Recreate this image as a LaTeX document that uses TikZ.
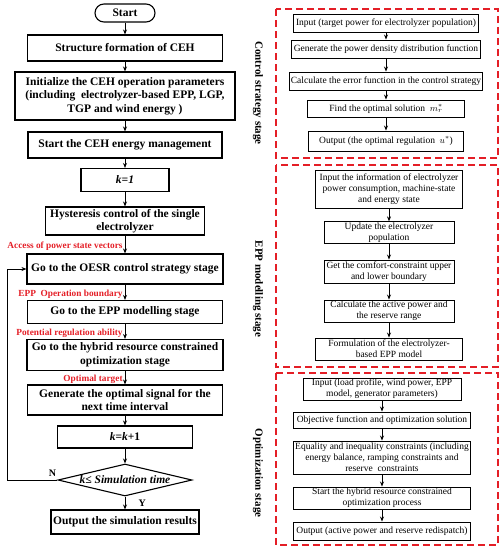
\documentclass[tikz,border=0pt]{standalone}
\usepackage{fontspec}
\setmainfont{Liberation Serif}
\usepackage{xcolor}
\usepackage{tikz}
\usetikzlibrary{arrows.meta,positioning,shapes.geometric}

\definecolor{framered}{RGB}{228,30,38}

\begin{document}
\begin{tikzpicture}[x=1pt, y=-1pt,
    mainbox/.style={draw, line width=1.1pt, align=center, inner sep=1pt, font=\bfseries\fontsize{11.5}{13.5}\selectfont},
    term/.style={mainbox, rounded corners=9pt},
    decision/.style={draw, diamond, line width=1.1pt, aspect=4.2, inner sep=0pt, font=\bfseries\itshape\fontsize{11.5}{13.5}\selectfont},
    subbox/.style={draw, line width=0.9pt, align=center, inner sep=1pt, font=\fontsize{9.5}{10.8}\selectfont},
    lab/.style={left, pos=0.6, text=framered, inner sep=2pt, font=\bfseries\fontsize{9.3}{10}\selectfont},
    yn/.style={font=\bfseries\fontsize{10}{11}\selectfont},
    stagelab/.style={rotate=-90, font=\bfseries\fontsize{11}{13}\selectfont},
    frame/.style={draw=framered, line width=1.3pt, dash pattern=on 7pt off 4pt},
    arr/.style={-{Stealth[length=5pt, width=4pt]}, line width=0.8pt}
  ]
    \useasboundingbox (0,0) rectangle (501,550);

    % main flow
    \node[term, minimum width=60pt, minimum height=18pt] (start) at (125,13) {Start};
    \node[mainbox, minimum width=195pt, minimum height=26pt] (struct) at (125,48) {Structure formation of CEH};
    \node[mainbox, minimum width=220pt, minimum height=48pt] (init) at (125,96) {Initialize the CEH operation parameters\\(including\ \ electrolyzer-based EPP, LGP,\\TGP and wind energy )};
    \node[mainbox, minimum width=194pt, minimum height=26pt] (manage) at (125,145) {Start the CEH energy management};
    \node[mainbox, minimum width=88pt, minimum height=23pt] (kone) at (125,180) {\itshape k=1};
    \node[mainbox, minimum width=159pt, minimum height=28pt] (hyst) at (125,221) {Hysteresis control of the single\\electrolyzer};
    \node[mainbox, minimum width=196pt, minimum height=30pt] (oesr) at (125,269) {Go to the OESR control strategy stage};
    \node[mainbox, minimum width=195pt, minimum height=23pt] (eppgo) at (125,312) {Go to the EPP modelling stage};
    \node[mainbox, minimum width=196pt, minimum height=31pt] (hybgo) at (125,355) {Go to the hybrid resource constrained\\optimization stage};
    \node[mainbox, minimum width=195pt, minimum height=30pt] (signal) at (125,400) {Generate the optimal signal for the\\next time interval};
    \node[mainbox, minimum width=135pt, minimum height=22pt] (knext) at (125,437) {\textit{k}=\textit{k}+1};
    \node[decision, minimum width=134pt, minimum height=32pt] (check) at (125,480) {k≤ Simulation time};
    \node[mainbox, minimum width=148pt, minimum height=24pt] (result) at (125,522) {Output the simulation results};
    \coordinate (back) at (7,480);

    \draw[arr] (start) -- (struct);
    \draw[arr] (struct) -- (init);
    \draw[arr] (init) -- (manage);
    \draw[arr] (manage) -- (kone);
    \draw[arr] (kone) -- (hyst);
    \draw[arr] (hyst) -- node[lab] {Access of power state vectors} (oesr);
    \draw[arr] (oesr) -- node[lab] {EPP\ \ Operation boundary} (eppgo);
    \draw[arr] (eppgo) -- node[lab] {Potential regulation ability} (hybgo);
    \draw[arr] (hybgo) -- node[lab] {Optimal target} (signal);
    \draw[arr] (signal) -- (knext);
    \draw[arr] (knext) -- (check);
    \draw[arr] (check) -- node[yn, right=10pt] {Y} (result);
    \draw[arr] (check.west) -- node[yn, above, pos=0.1] {N} (back) |- (oesr.west);

    % control strategy stage
    \draw[frame] (276,9) rectangle (498,158);
    \node[stagelab] (cslab) at (258,93) {Control strategy stage};
    \node[subbox, minimum width=185pt, minimum height=18pt] (cs1) at (386,23) {Input (target power for electrolyzer population)};
    \node[subbox, minimum width=189pt, minimum height=18pt] (cs2) at (386,49) {Generate the power density distribution function};
    \node[subbox, minimum width=193pt, minimum height=18pt] (cs3) at (386,81) {Calculate the error function in the control strategy};
    \node[subbox, minimum width=157pt, minimum height=17pt] (cs4) at (386,108.5) {Find the optimal solution\ \ $m_r^{*}$};
    \node[subbox, minimum width=155pt, minimum height=20pt] (cs5) at (386,141) {Output (the optimal regulation\ \ $u^{*}$)};
    \draw[arr] (cs1) -- (cs2);
    \draw[arr] (cs2) -- (cs3);
    \draw[arr] (cs3) -- (cs4);
    \draw[arr] (cs4) -- (cs5);

    % EPP modelling stage
    \draw[frame] (276,165) rectangle (498,367);
    \node[stagelab] (epplab) at (258,289) {EPP modelling stage};
    \node[subbox, minimum width=147pt, minimum height=38pt] (em1) at (389,189) {Input the information of electrolyzer\\power consumption, machine-state\\and energy state};
    \node[subbox, minimum width=130pt, minimum height=21pt] (em2) at (389,232.5) {Update the electrolyzer\\population};
    \node[subbox, minimum width=130pt, minimum height=23pt] (em3) at (389,271.5) {Get the comfort-constraint upper\\and lower boundary};
    \node[subbox, minimum width=130pt, minimum height=22pt] (em4) at (389,311) {Calculate the active power and\\the reserve range};
    \node[subbox, minimum width=147pt, minimum height=22pt] (em5) at (389,349) {Formulation of the electrolyzer-\\based EPP model};
    \draw[arr] (em1) -- (em2);
    \draw[arr] (em2) -- (em3);
    \draw[arr] (em3) -- (em4);
    \draw[arr] (em4) -- (em5);

    % optimization stage
    \draw[frame] (276,373) rectangle (498,545);
    \node[stagelab] (optlab) at (258,473) {Optimization stage};
    \node[subbox, minimum width=158pt, minimum height=22pt] (op1) at (382,389) {Input (load profile, wind power, EPP\\model, generator parameters)};
    \node[subbox, minimum width=177pt, minimum height=16pt] (op2) at (382,420) {Objective function and optimization solution};
    \node[subbox, minimum width=177pt, minimum height=33pt] (op3) at (382,457.5) {Equality and inequality constraints (including\\energy balance, ramping constraints and\\reserve\ \ constraints};
    \node[subbox, minimum width=177pt, minimum height=22pt] (op4) at (382,498) {Start the hybrid resource constrained\\optimization process};
    \node[subbox, minimum width=177pt, minimum height=18pt] (op5) at (382,531) {Output (active power and reserve redispatch)};
    \draw[arr] (op1) -- (op2);
    \draw[arr] (op2) -- (op3);
    \draw[arr] (op3) -- (op4);
    \draw[arr] (op4) -- (op5);
  \end{tikzpicture}
\end{document}
